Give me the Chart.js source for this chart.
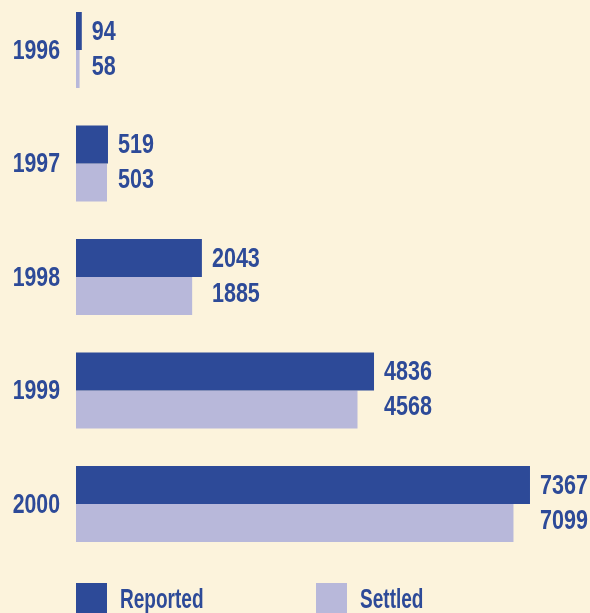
<!DOCTYPE html>
<html>
<head>
<meta charset="utf-8">
<script src="https://cdn.jsdelivr.net/npm/chart.js@4/dist/chart.umd.min.js"></script>
<style>
  html, body { margin: 0; padding: 0; background: #fcf3dc; }
</style>
</head>
<body>
<canvas id="claimsChart" width="590" height="613"></canvas>
<script>
// data
const years = ['1996', '1997', '1998', '1999', '2000'];
const reported = [94, 519, 2043, 4836, 7367];
const settled = [58, 503, 1885, 4568, 7099];
const seriesNames = ['Reported', 'Settled'];

const BLUE = '#2d4a98';
const LAVENDER = '#b8b8da';
const FONT = 'bold 28px "Liberation Sans", Arial, sans-serif';

// no condensed face installed, so squash the text horizontally
function drawText(ctx, text, x, y, align, squeeze) {
    ctx.save();
    ctx.translate(x, y);
    ctx.scale(squeeze, 1);
    ctx.textAlign = align;
    ctx.fillText(text, 0, 0);
    ctx.restore();
}

// year labels, value labels and legend
const textLayer = {
    id: 'textLayer',
    afterDraw(chart) {
        const ctx = chart.ctx;
        const yScale = chart.scales.y;
        ctx.save();
        ctx.font = FONT;
        ctx.fillStyle = BLUE;
        ctx.textBaseline = 'middle';

        chart.data.labels.forEach((lab, i) => {
            drawText(ctx, lab, 60, yScale.getPixelForTick(i) + 1, 'right', 0.76);
        });

        // both values of a year start at the same x, right of the longer bar
        const top = chart.getDatasetMeta(0).data;
        const bottom = chart.getDatasetMeta(1).data;
        top.forEach((bar, i) => {
            const x = Math.max(bar.x, bottom[i].x) + 10;
            drawText(ctx, String(chart.data.datasets[0].data[i]), x, bar.y + 1, 'left', 0.77);
            drawText(ctx, String(chart.data.datasets[1].data[i]), x, bottom[i].y - 2, 'left', 0.77);
        });

        const starts = [76, 316];
        ctx.textBaseline = 'alphabetic';
        chart.data.datasets.forEach((ds, di) => {
            const x = starts[di];
            ctx.fillStyle = ds.backgroundColor;
            ctx.fillRect(x, 583, 31, 31);
            ctx.fillStyle = BLUE;
            drawText(ctx, ds.label, x + 44, 608, 'left', 0.68);
        });
        ctx.restore();
    }
};

new Chart(document.getElementById('claimsChart'), {
    type: 'bar',
    data: {
        labels: years,
        datasets: [
            { label: seriesNames[0], data: reported, backgroundColor: BLUE, clip: false },
            { label: seriesNames[1], data: settled, backgroundColor: LAVENDER, clip: false }
        ]
    },
    options: {
        indexAxis: 'y',
        responsive: false,
        animation: false,
        categoryPercentage: 0.67,
        barPercentage: 1,
        layout: { padding: { top: 50, bottom: 109, left: 0, right: 21 } },
        plugins: {
            legend: { display: false },
            tooltip: { enabled: false }
        },
        scales: {
            x: { display: false, min: 0, max: 8000 },
            y: {
                offset: false,
                grid: { display: false, drawTicks: false, offset: false },
                border: { display: false },
                ticks: { display: false },
                afterFit(scale) { scale.width = 76; }
            }
        }
    },
    plugins: [textLayer]
});
</script>
</body>
</html>
